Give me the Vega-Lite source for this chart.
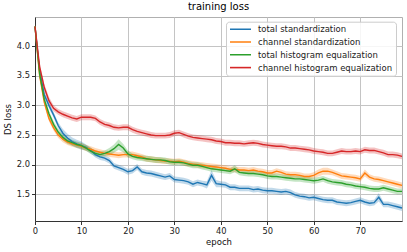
{
"$schema":"https://vega.github.io/schema/vega-lite/v6.json",
"width":367,"height":204,
"autosize":{"type":"none"},
"padding":{"left":35,"top":17,"right":5,"bottom":31},
"title":{"text":"training loss","font":"DejaVu Sans","fontSize":10,"fontWeight":"normal","color":"#000","offset":5},
"config":{
 "view":{"stroke":"#b0b0b0","strokeWidth":1},
 "axis":{"labelFont":"DejaVu Sans","titleFont":"DejaVu Sans","labelFontSize":8.3,"titleFontSize":8.5,"titleFontWeight":"normal","labelColor":"#222","titleColor":"#111","domainColor":"#333","tickColor":"#333","tickSize":3.5,"gridColor":"#c4c4c4","gridWidth":1,"labelFlush":false,"labelOverlap":false,"labelPadding":2},
 "legend":{"labelFont":"DejaVu Sans","labelFontSize":8.5,"labelColor":"#222"}
},
"data":{"values":[
{"s":"total standardization","e":0,"v":4.33,"lo":4.28,"hi":4.38},
{"s":"total standardization","e":1,"v":3.58,"lo":3.53,"hi":3.63},
{"s":"total standardization","e":2,"v":3.18,"lo":3.13,"hi":3.23},
{"s":"total standardization","e":3,"v":3.0,"lo":2.95,"hi":3.05},
{"s":"total standardization","e":4,"v":2.84,"lo":2.79,"hi":2.89},
{"s":"total standardization","e":5,"v":2.66,"lo":2.61,"hi":2.71},
{"s":"total standardization","e":6,"v":2.53,"lo":2.46,"hi":2.6},
{"s":"total standardization","e":7,"v":2.45,"lo":2.38,"hi":2.52},
{"s":"total standardization","e":8,"v":2.39,"lo":2.32,"hi":2.46},
{"s":"total standardization","e":9,"v":2.35,"lo":2.28,"hi":2.42},
{"s":"total standardization","e":10,"v":2.32,"lo":2.25,"hi":2.39},
{"s":"total standardization","e":11,"v":2.29,"lo":2.24,"hi":2.34},
{"s":"total standardization","e":12,"v":2.24,"lo":2.19,"hi":2.29},
{"s":"total standardization","e":13,"v":2.17,"lo":2.12,"hi":2.22},
{"s":"total standardization","e":14,"v":2.13,"lo":2.08,"hi":2.18},
{"s":"total standardization","e":15,"v":2.11,"lo":2.06,"hi":2.16},
{"s":"total standardization","e":16,"v":2.07,"lo":2.02,"hi":2.12},
{"s":"total standardization","e":17,"v":1.98,"lo":1.93,"hi":2.03},
{"s":"total standardization","e":18,"v":1.95,"lo":1.9,"hi":2.0},
{"s":"total standardization","e":19,"v":1.92,"lo":1.87,"hi":1.97},
{"s":"total standardization","e":20,"v":1.88,"lo":1.83,"hi":1.93},
{"s":"total standardization","e":21,"v":1.9,"lo":1.85,"hi":1.95},
{"s":"total standardization","e":22,"v":1.96,"lo":1.91,"hi":2.01},
{"s":"total standardization","e":23,"v":1.88,"lo":1.83,"hi":1.93},
{"s":"total standardization","e":24,"v":1.86,"lo":1.81,"hi":1.91},
{"s":"total standardization","e":25,"v":1.85,"lo":1.8,"hi":1.9},
{"s":"total standardization","e":26,"v":1.83,"lo":1.78,"hi":1.88},
{"s":"total standardization","e":27,"v":1.81,"lo":1.76,"hi":1.86},
{"s":"total standardization","e":28,"v":1.79,"lo":1.74,"hi":1.84},
{"s":"total standardization","e":29,"v":1.81,"lo":1.76,"hi":1.86},
{"s":"total standardization","e":30,"v":1.75,"lo":1.7,"hi":1.8},
{"s":"total standardization","e":31,"v":1.74,"lo":1.69,"hi":1.79},
{"s":"total standardization","e":32,"v":1.73,"lo":1.68,"hi":1.78},
{"s":"total standardization","e":33,"v":1.71,"lo":1.66,"hi":1.76},
{"s":"total standardization","e":34,"v":1.67,"lo":1.62,"hi":1.72},
{"s":"total standardization","e":35,"v":1.7,"lo":1.65,"hi":1.75},
{"s":"total standardization","e":36,"v":1.68,"lo":1.63,"hi":1.73},
{"s":"total standardization","e":37,"v":1.66,"lo":1.6,"hi":1.72},
{"s":"total standardization","e":38,"v":1.82,"lo":1.73,"hi":1.91},
{"s":"total standardization","e":39,"v":1.68,"lo":1.62,"hi":1.74},
{"s":"total standardization","e":40,"v":1.67,"lo":1.62,"hi":1.72},
{"s":"total standardization","e":41,"v":1.66,"lo":1.61,"hi":1.71},
{"s":"total standardization","e":42,"v":1.62,"lo":1.57,"hi":1.67},
{"s":"total standardization","e":43,"v":1.62,"lo":1.57,"hi":1.67},
{"s":"total standardization","e":44,"v":1.6,"lo":1.55,"hi":1.65},
{"s":"total standardization","e":45,"v":1.6,"lo":1.55,"hi":1.65},
{"s":"total standardization","e":46,"v":1.6,"lo":1.55,"hi":1.65},
{"s":"total standardization","e":47,"v":1.58,"lo":1.53,"hi":1.63},
{"s":"total standardization","e":48,"v":1.59,"lo":1.54,"hi":1.64},
{"s":"total standardization","e":49,"v":1.57,"lo":1.52,"hi":1.62},
{"s":"total standardization","e":50,"v":1.56,"lo":1.51,"hi":1.61},
{"s":"total standardization","e":51,"v":1.56,"lo":1.51,"hi":1.61},
{"s":"total standardization","e":52,"v":1.55,"lo":1.5,"hi":1.6},
{"s":"total standardization","e":53,"v":1.54,"lo":1.49,"hi":1.59},
{"s":"total standardization","e":54,"v":1.55,"lo":1.5,"hi":1.6},
{"s":"total standardization","e":55,"v":1.53,"lo":1.48,"hi":1.58},
{"s":"total standardization","e":56,"v":1.49,"lo":1.44,"hi":1.54},
{"s":"total standardization","e":57,"v":1.47,"lo":1.42,"hi":1.52},
{"s":"total standardization","e":58,"v":1.46,"lo":1.41,"hi":1.51},
{"s":"total standardization","e":59,"v":1.44,"lo":1.39,"hi":1.49},
{"s":"total standardization","e":60,"v":1.45,"lo":1.4,"hi":1.5},
{"s":"total standardization","e":61,"v":1.43,"lo":1.38,"hi":1.48},
{"s":"total standardization","e":62,"v":1.41,"lo":1.36,"hi":1.46},
{"s":"total standardization","e":63,"v":1.4,"lo":1.35,"hi":1.45},
{"s":"total standardization","e":64,"v":1.4,"lo":1.35,"hi":1.45},
{"s":"total standardization","e":65,"v":1.37,"lo":1.32,"hi":1.42},
{"s":"total standardization","e":66,"v":1.36,"lo":1.31,"hi":1.41},
{"s":"total standardization","e":67,"v":1.35,"lo":1.3,"hi":1.4},
{"s":"total standardization","e":68,"v":1.36,"lo":1.31,"hi":1.41},
{"s":"total standardization","e":69,"v":1.38,"lo":1.33,"hi":1.43},
{"s":"total standardization","e":70,"v":1.4,"lo":1.35,"hi":1.45},
{"s":"total standardization","e":71,"v":1.37,"lo":1.32,"hi":1.42},
{"s":"total standardization","e":72,"v":1.35,"lo":1.3,"hi":1.4},
{"s":"total standardization","e":73,"v":1.36,"lo":1.31,"hi":1.41},
{"s":"total standardization","e":74,"v":1.45,"lo":1.38,"hi":1.52},
{"s":"total standardization","e":75,"v":1.33,"lo":1.28,"hi":1.38},
{"s":"total standardization","e":76,"v":1.33,"lo":1.28,"hi":1.38},
{"s":"total standardization","e":77,"v":1.31,"lo":1.26,"hi":1.36},
{"s":"total standardization","e":78,"v":1.29,"lo":1.24,"hi":1.34},
{"s":"total standardization","e":79,"v":1.27,"lo":1.22,"hi":1.32},
{"s":"channel standardization","e":0,"v":4.33,"lo":4.28,"hi":4.38},
{"s":"channel standardization","e":1,"v":3.5,"lo":3.45,"hi":3.55},
{"s":"channel standardization","e":2,"v":3.05,"lo":3.0,"hi":3.1},
{"s":"channel standardization","e":3,"v":2.78,"lo":2.73,"hi":2.83},
{"s":"channel standardization","e":4,"v":2.62,"lo":2.57,"hi":2.67},
{"s":"channel standardization","e":5,"v":2.5,"lo":2.45,"hi":2.55},
{"s":"channel standardization","e":6,"v":2.43,"lo":2.38,"hi":2.48},
{"s":"channel standardization","e":7,"v":2.38,"lo":2.33,"hi":2.43},
{"s":"channel standardization","e":8,"v":2.35,"lo":2.3,"hi":2.4},
{"s":"channel standardization","e":9,"v":2.33,"lo":2.28,"hi":2.38},
{"s":"channel standardization","e":10,"v":2.31,"lo":2.26,"hi":2.36},
{"s":"channel standardization","e":11,"v":2.28,"lo":2.23,"hi":2.33},
{"s":"channel standardization","e":12,"v":2.26,"lo":2.21,"hi":2.31},
{"s":"channel standardization","e":13,"v":2.23,"lo":2.18,"hi":2.28},
{"s":"channel standardization","e":14,"v":2.21,"lo":2.16,"hi":2.26},
{"s":"channel standardization","e":15,"v":2.19,"lo":2.14,"hi":2.24},
{"s":"channel standardization","e":16,"v":2.18,"lo":2.13,"hi":2.23},
{"s":"channel standardization","e":17,"v":2.17,"lo":2.12,"hi":2.22},
{"s":"channel standardization","e":18,"v":2.16,"lo":2.11,"hi":2.21},
{"s":"channel standardization","e":19,"v":2.17,"lo":2.12,"hi":2.22},
{"s":"channel standardization","e":20,"v":2.17,"lo":2.12,"hi":2.22},
{"s":"channel standardization","e":21,"v":2.17,"lo":2.12,"hi":2.22},
{"s":"channel standardization","e":22,"v":2.15,"lo":2.1,"hi":2.2},
{"s":"channel standardization","e":23,"v":2.13,"lo":2.08,"hi":2.18},
{"s":"channel standardization","e":24,"v":2.1,"lo":2.05,"hi":2.15},
{"s":"channel standardization","e":25,"v":2.09,"lo":2.04,"hi":2.14},
{"s":"channel standardization","e":26,"v":2.08,"lo":2.03,"hi":2.13},
{"s":"channel standardization","e":27,"v":2.07,"lo":2.02,"hi":2.12},
{"s":"channel standardization","e":28,"v":2.06,"lo":2.01,"hi":2.11},
{"s":"channel standardization","e":29,"v":2.06,"lo":2.01,"hi":2.11},
{"s":"channel standardization","e":30,"v":2.05,"lo":2.0,"hi":2.1},
{"s":"channel standardization","e":31,"v":2.06,"lo":2.01,"hi":2.11},
{"s":"channel standardization","e":32,"v":2.04,"lo":1.99,"hi":2.09},
{"s":"channel standardization","e":33,"v":2.02,"lo":1.97,"hi":2.07},
{"s":"channel standardization","e":34,"v":2.01,"lo":1.96,"hi":2.06},
{"s":"channel standardization","e":35,"v":2.0,"lo":1.95,"hi":2.05},
{"s":"channel standardization","e":36,"v":1.99,"lo":1.94,"hi":2.04},
{"s":"channel standardization","e":37,"v":1.98,"lo":1.93,"hi":2.03},
{"s":"channel standardization","e":38,"v":1.97,"lo":1.92,"hi":2.02},
{"s":"channel standardization","e":39,"v":1.96,"lo":1.91,"hi":2.01},
{"s":"channel standardization","e":40,"v":1.95,"lo":1.9,"hi":2.0},
{"s":"channel standardization","e":41,"v":1.94,"lo":1.89,"hi":1.99},
{"s":"channel standardization","e":42,"v":1.92,"lo":1.87,"hi":1.97},
{"s":"channel standardization","e":43,"v":1.92,"lo":1.87,"hi":1.97},
{"s":"channel standardization","e":44,"v":1.91,"lo":1.86,"hi":1.96},
{"s":"channel standardization","e":45,"v":1.91,"lo":1.86,"hi":1.96},
{"s":"channel standardization","e":46,"v":1.9,"lo":1.85,"hi":1.95},
{"s":"channel standardization","e":47,"v":1.91,"lo":1.86,"hi":1.96},
{"s":"channel standardization","e":48,"v":1.89,"lo":1.84,"hi":1.94},
{"s":"channel standardization","e":49,"v":1.88,"lo":1.83,"hi":1.93},
{"s":"channel standardization","e":50,"v":1.86,"lo":1.81,"hi":1.91},
{"s":"channel standardization","e":51,"v":1.86,"lo":1.81,"hi":1.91},
{"s":"channel standardization","e":52,"v":1.89,"lo":1.84,"hi":1.94},
{"s":"channel standardization","e":53,"v":1.87,"lo":1.82,"hi":1.92},
{"s":"channel standardization","e":54,"v":1.84,"lo":1.79,"hi":1.89},
{"s":"channel standardization","e":55,"v":1.83,"lo":1.78,"hi":1.88},
{"s":"channel standardization","e":56,"v":1.83,"lo":1.78,"hi":1.88},
{"s":"channel standardization","e":57,"v":1.82,"lo":1.77,"hi":1.87},
{"s":"channel standardization","e":58,"v":1.8,"lo":1.75,"hi":1.85},
{"s":"channel standardization","e":59,"v":1.8,"lo":1.75,"hi":1.85},
{"s":"channel standardization","e":60,"v":1.82,"lo":1.77,"hi":1.87},
{"s":"channel standardization","e":61,"v":1.86,"lo":1.8,"hi":1.92},
{"s":"channel standardization","e":62,"v":1.89,"lo":1.83,"hi":1.95},
{"s":"channel standardization","e":63,"v":1.89,"lo":1.83,"hi":1.95},
{"s":"channel standardization","e":64,"v":1.87,"lo":1.82,"hi":1.92},
{"s":"channel standardization","e":65,"v":1.84,"lo":1.79,"hi":1.89},
{"s":"channel standardization","e":66,"v":1.81,"lo":1.76,"hi":1.86},
{"s":"channel standardization","e":67,"v":1.8,"lo":1.75,"hi":1.85},
{"s":"channel standardization","e":68,"v":1.79,"lo":1.74,"hi":1.84},
{"s":"channel standardization","e":69,"v":1.78,"lo":1.73,"hi":1.83},
{"s":"channel standardization","e":70,"v":1.76,"lo":1.71,"hi":1.81},
{"s":"channel standardization","e":71,"v":1.86,"lo":1.8,"hi":1.92},
{"s":"channel standardization","e":72,"v":1.79,"lo":1.74,"hi":1.84},
{"s":"channel standardization","e":73,"v":1.76,"lo":1.71,"hi":1.81},
{"s":"channel standardization","e":74,"v":1.75,"lo":1.7,"hi":1.8},
{"s":"channel standardization","e":75,"v":1.73,"lo":1.68,"hi":1.78},
{"s":"channel standardization","e":76,"v":1.71,"lo":1.66,"hi":1.76},
{"s":"channel standardization","e":77,"v":1.69,"lo":1.64,"hi":1.74},
{"s":"channel standardization","e":78,"v":1.67,"lo":1.62,"hi":1.72},
{"s":"channel standardization","e":79,"v":1.65,"lo":1.6,"hi":1.7},
{"s":"total histogram equalization","e":0,"v":4.33,"lo":4.28,"hi":4.38},
{"s":"total histogram equalization","e":1,"v":3.53,"lo":3.48,"hi":3.58},
{"s":"total histogram equalization","e":2,"v":3.1,"lo":3.05,"hi":3.15},
{"s":"total histogram equalization","e":3,"v":2.86,"lo":2.81,"hi":2.91},
{"s":"total histogram equalization","e":4,"v":2.68,"lo":2.63,"hi":2.73},
{"s":"total histogram equalization","e":5,"v":2.55,"lo":2.5,"hi":2.6},
{"s":"total histogram equalization","e":6,"v":2.46,"lo":2.41,"hi":2.51},
{"s":"total histogram equalization","e":7,"v":2.4,"lo":2.35,"hi":2.45},
{"s":"total histogram equalization","e":8,"v":2.37,"lo":2.32,"hi":2.42},
{"s":"total histogram equalization","e":9,"v":2.34,"lo":2.29,"hi":2.39},
{"s":"total histogram equalization","e":10,"v":2.32,"lo":2.27,"hi":2.37},
{"s":"total histogram equalization","e":11,"v":2.28,"lo":2.23,"hi":2.33},
{"s":"total histogram equalization","e":12,"v":2.23,"lo":2.18,"hi":2.28},
{"s":"total histogram equalization","e":13,"v":2.19,"lo":2.14,"hi":2.24},
{"s":"total histogram equalization","e":14,"v":2.17,"lo":2.12,"hi":2.22},
{"s":"total histogram equalization","e":15,"v":2.19,"lo":2.14,"hi":2.24},
{"s":"total histogram equalization","e":16,"v":2.22,"lo":2.16,"hi":2.28},
{"s":"total histogram equalization","e":17,"v":2.27,"lo":2.2,"hi":2.34},
{"s":"total histogram equalization","e":18,"v":2.34,"lo":2.25,"hi":2.43},
{"s":"total histogram equalization","e":19,"v":2.28,"lo":2.21,"hi":2.35},
{"s":"total histogram equalization","e":20,"v":2.18,"lo":2.12,"hi":2.24},
{"s":"total histogram equalization","e":21,"v":2.14,"lo":2.09,"hi":2.19},
{"s":"total histogram equalization","e":22,"v":2.12,"lo":2.07,"hi":2.17},
{"s":"total histogram equalization","e":23,"v":2.11,"lo":2.06,"hi":2.16},
{"s":"total histogram equalization","e":24,"v":2.1,"lo":2.05,"hi":2.15},
{"s":"total histogram equalization","e":25,"v":2.09,"lo":2.04,"hi":2.14},
{"s":"total histogram equalization","e":26,"v":2.08,"lo":2.03,"hi":2.13},
{"s":"total histogram equalization","e":27,"v":2.08,"lo":2.03,"hi":2.13},
{"s":"total histogram equalization","e":28,"v":2.07,"lo":2.02,"hi":2.12},
{"s":"total histogram equalization","e":29,"v":2.05,"lo":2.0,"hi":2.1},
{"s":"total histogram equalization","e":30,"v":2.04,"lo":1.99,"hi":2.09},
{"s":"total histogram equalization","e":31,"v":2.04,"lo":1.99,"hi":2.09},
{"s":"total histogram equalization","e":32,"v":2.03,"lo":1.98,"hi":2.08},
{"s":"total histogram equalization","e":33,"v":2.01,"lo":1.96,"hi":2.06},
{"s":"total histogram equalization","e":34,"v":1.99,"lo":1.94,"hi":2.04},
{"s":"total histogram equalization","e":35,"v":1.99,"lo":1.94,"hi":2.04},
{"s":"total histogram equalization","e":36,"v":1.97,"lo":1.92,"hi":2.02},
{"s":"total histogram equalization","e":37,"v":1.95,"lo":1.9,"hi":2.0},
{"s":"total histogram equalization","e":38,"v":1.93,"lo":1.88,"hi":1.98},
{"s":"total histogram equalization","e":39,"v":1.92,"lo":1.87,"hi":1.97},
{"s":"total histogram equalization","e":40,"v":1.91,"lo":1.86,"hi":1.96},
{"s":"total histogram equalization","e":41,"v":1.9,"lo":1.85,"hi":1.95},
{"s":"total histogram equalization","e":42,"v":1.89,"lo":1.84,"hi":1.94},
{"s":"total histogram equalization","e":43,"v":1.93,"lo":1.87,"hi":1.99},
{"s":"total histogram equalization","e":44,"v":1.87,"lo":1.82,"hi":1.92},
{"s":"total histogram equalization","e":45,"v":1.86,"lo":1.81,"hi":1.91},
{"s":"total histogram equalization","e":46,"v":1.85,"lo":1.8,"hi":1.9},
{"s":"total histogram equalization","e":47,"v":1.85,"lo":1.8,"hi":1.9},
{"s":"total histogram equalization","e":48,"v":1.84,"lo":1.79,"hi":1.89},
{"s":"total histogram equalization","e":49,"v":1.83,"lo":1.78,"hi":1.88},
{"s":"total histogram equalization","e":50,"v":1.81,"lo":1.76,"hi":1.86},
{"s":"total histogram equalization","e":51,"v":1.8,"lo":1.75,"hi":1.85},
{"s":"total histogram equalization","e":52,"v":1.8,"lo":1.75,"hi":1.85},
{"s":"total histogram equalization","e":53,"v":1.79,"lo":1.74,"hi":1.84},
{"s":"total histogram equalization","e":54,"v":1.78,"lo":1.73,"hi":1.83},
{"s":"total histogram equalization","e":55,"v":1.77,"lo":1.72,"hi":1.82},
{"s":"total histogram equalization","e":56,"v":1.76,"lo":1.71,"hi":1.81},
{"s":"total histogram equalization","e":57,"v":1.76,"lo":1.71,"hi":1.81},
{"s":"total histogram equalization","e":58,"v":1.75,"lo":1.7,"hi":1.8},
{"s":"total histogram equalization","e":59,"v":1.74,"lo":1.69,"hi":1.79},
{"s":"total histogram equalization","e":60,"v":1.73,"lo":1.68,"hi":1.78},
{"s":"total histogram equalization","e":61,"v":1.74,"lo":1.69,"hi":1.79},
{"s":"total histogram equalization","e":62,"v":1.76,"lo":1.71,"hi":1.81},
{"s":"total histogram equalization","e":63,"v":1.73,"lo":1.68,"hi":1.78},
{"s":"total histogram equalization","e":64,"v":1.71,"lo":1.66,"hi":1.76},
{"s":"total histogram equalization","e":65,"v":1.7,"lo":1.65,"hi":1.75},
{"s":"total histogram equalization","e":66,"v":1.69,"lo":1.64,"hi":1.74},
{"s":"total histogram equalization","e":67,"v":1.67,"lo":1.62,"hi":1.72},
{"s":"total histogram equalization","e":68,"v":1.66,"lo":1.61,"hi":1.71},
{"s":"total histogram equalization","e":69,"v":1.64,"lo":1.59,"hi":1.69},
{"s":"total histogram equalization","e":70,"v":1.63,"lo":1.58,"hi":1.68},
{"s":"total histogram equalization","e":71,"v":1.62,"lo":1.57,"hi":1.67},
{"s":"total histogram equalization","e":72,"v":1.6,"lo":1.55,"hi":1.65},
{"s":"total histogram equalization","e":73,"v":1.59,"lo":1.54,"hi":1.64},
{"s":"total histogram equalization","e":74,"v":1.59,"lo":1.54,"hi":1.64},
{"s":"total histogram equalization","e":75,"v":1.61,"lo":1.56,"hi":1.66},
{"s":"total histogram equalization","e":76,"v":1.59,"lo":1.54,"hi":1.64},
{"s":"total histogram equalization","e":77,"v":1.57,"lo":1.52,"hi":1.62},
{"s":"total histogram equalization","e":78,"v":1.55,"lo":1.5,"hi":1.6},
{"s":"total histogram equalization","e":79,"v":1.55,"lo":1.5,"hi":1.6},
{"s":"channel histogram equalization","e":0,"v":4.33,"lo":4.27,"hi":4.39},
{"s":"channel histogram equalization","e":1,"v":3.65,"lo":3.59,"hi":3.71},
{"s":"channel histogram equalization","e":2,"v":3.3,"lo":3.24,"hi":3.36},
{"s":"channel histogram equalization","e":3,"v":3.08,"lo":3.02,"hi":3.14},
{"s":"channel histogram equalization","e":4,"v":2.95,"lo":2.9,"hi":3.0},
{"s":"channel histogram equalization","e":5,"v":2.89,"lo":2.84,"hi":2.94},
{"s":"channel histogram equalization","e":6,"v":2.85,"lo":2.8,"hi":2.9},
{"s":"channel histogram equalization","e":7,"v":2.82,"lo":2.77,"hi":2.87},
{"s":"channel histogram equalization","e":8,"v":2.79,"lo":2.74,"hi":2.84},
{"s":"channel histogram equalization","e":9,"v":2.77,"lo":2.72,"hi":2.82},
{"s":"channel histogram equalization","e":10,"v":2.8,"lo":2.75,"hi":2.85},
{"s":"channel histogram equalization","e":11,"v":2.8,"lo":2.75,"hi":2.85},
{"s":"channel histogram equalization","e":12,"v":2.8,"lo":2.75,"hi":2.85},
{"s":"channel histogram equalization","e":13,"v":2.78,"lo":2.73,"hi":2.83},
{"s":"channel histogram equalization","e":14,"v":2.72,"lo":2.67,"hi":2.77},
{"s":"channel histogram equalization","e":15,"v":2.68,"lo":2.63,"hi":2.73},
{"s":"channel histogram equalization","e":16,"v":2.66,"lo":2.61,"hi":2.71},
{"s":"channel histogram equalization","e":17,"v":2.63,"lo":2.58,"hi":2.68},
{"s":"channel histogram equalization","e":18,"v":2.62,"lo":2.57,"hi":2.67},
{"s":"channel histogram equalization","e":19,"v":2.63,"lo":2.58,"hi":2.68},
{"s":"channel histogram equalization","e":20,"v":2.63,"lo":2.58,"hi":2.68},
{"s":"channel histogram equalization","e":21,"v":2.59,"lo":2.54,"hi":2.64},
{"s":"channel histogram equalization","e":22,"v":2.56,"lo":2.51,"hi":2.61},
{"s":"channel histogram equalization","e":23,"v":2.54,"lo":2.49,"hi":2.59},
{"s":"channel histogram equalization","e":24,"v":2.52,"lo":2.47,"hi":2.57},
{"s":"channel histogram equalization","e":25,"v":2.5,"lo":2.45,"hi":2.55},
{"s":"channel histogram equalization","e":26,"v":2.49,"lo":2.44,"hi":2.54},
{"s":"channel histogram equalization","e":27,"v":2.49,"lo":2.44,"hi":2.54},
{"s":"channel histogram equalization","e":28,"v":2.49,"lo":2.44,"hi":2.54},
{"s":"channel histogram equalization","e":29,"v":2.5,"lo":2.45,"hi":2.55},
{"s":"channel histogram equalization","e":30,"v":2.53,"lo":2.48,"hi":2.58},
{"s":"channel histogram equalization","e":31,"v":2.54,"lo":2.49,"hi":2.59},
{"s":"channel histogram equalization","e":32,"v":2.51,"lo":2.46,"hi":2.56},
{"s":"channel histogram equalization","e":33,"v":2.48,"lo":2.43,"hi":2.53},
{"s":"channel histogram equalization","e":34,"v":2.46,"lo":2.41,"hi":2.51},
{"s":"channel histogram equalization","e":35,"v":2.45,"lo":2.4,"hi":2.5},
{"s":"channel histogram equalization","e":36,"v":2.44,"lo":2.39,"hi":2.49},
{"s":"channel histogram equalization","e":37,"v":2.43,"lo":2.38,"hi":2.48},
{"s":"channel histogram equalization","e":38,"v":2.42,"lo":2.37,"hi":2.47},
{"s":"channel histogram equalization","e":39,"v":2.4,"lo":2.35,"hi":2.45},
{"s":"channel histogram equalization","e":40,"v":2.39,"lo":2.34,"hi":2.44},
{"s":"channel histogram equalization","e":41,"v":2.37,"lo":2.32,"hi":2.42},
{"s":"channel histogram equalization","e":42,"v":2.37,"lo":2.32,"hi":2.42},
{"s":"channel histogram equalization","e":43,"v":2.36,"lo":2.31,"hi":2.41},
{"s":"channel histogram equalization","e":44,"v":2.36,"lo":2.31,"hi":2.41},
{"s":"channel histogram equalization","e":45,"v":2.35,"lo":2.3,"hi":2.4},
{"s":"channel histogram equalization","e":46,"v":2.36,"lo":2.31,"hi":2.41},
{"s":"channel histogram equalization","e":47,"v":2.37,"lo":2.32,"hi":2.42},
{"s":"channel histogram equalization","e":48,"v":2.36,"lo":2.31,"hi":2.41},
{"s":"channel histogram equalization","e":49,"v":2.34,"lo":2.29,"hi":2.39},
{"s":"channel histogram equalization","e":50,"v":2.33,"lo":2.28,"hi":2.38},
{"s":"channel histogram equalization","e":51,"v":2.32,"lo":2.27,"hi":2.37},
{"s":"channel histogram equalization","e":52,"v":2.31,"lo":2.26,"hi":2.36},
{"s":"channel histogram equalization","e":53,"v":2.31,"lo":2.26,"hi":2.36},
{"s":"channel histogram equalization","e":54,"v":2.3,"lo":2.25,"hi":2.35},
{"s":"channel histogram equalization","e":55,"v":2.28,"lo":2.23,"hi":2.33},
{"s":"channel histogram equalization","e":56,"v":2.28,"lo":2.23,"hi":2.33},
{"s":"channel histogram equalization","e":57,"v":2.27,"lo":2.22,"hi":2.32},
{"s":"channel histogram equalization","e":58,"v":2.26,"lo":2.21,"hi":2.31},
{"s":"channel histogram equalization","e":59,"v":2.25,"lo":2.2,"hi":2.3},
{"s":"channel histogram equalization","e":60,"v":2.23,"lo":2.18,"hi":2.28},
{"s":"channel histogram equalization","e":61,"v":2.22,"lo":2.17,"hi":2.27},
{"s":"channel histogram equalization","e":62,"v":2.21,"lo":2.16,"hi":2.26},
{"s":"channel histogram equalization","e":63,"v":2.19,"lo":2.14,"hi":2.24},
{"s":"channel histogram equalization","e":64,"v":2.19,"lo":2.14,"hi":2.24},
{"s":"channel histogram equalization","e":65,"v":2.21,"lo":2.16,"hi":2.26},
{"s":"channel histogram equalization","e":66,"v":2.23,"lo":2.18,"hi":2.28},
{"s":"channel histogram equalization","e":67,"v":2.22,"lo":2.17,"hi":2.27},
{"s":"channel histogram equalization","e":68,"v":2.22,"lo":2.17,"hi":2.27},
{"s":"channel histogram equalization","e":69,"v":2.23,"lo":2.18,"hi":2.28},
{"s":"channel histogram equalization","e":70,"v":2.22,"lo":2.17,"hi":2.27},
{"s":"channel histogram equalization","e":71,"v":2.25,"lo":2.2,"hi":2.3},
{"s":"channel histogram equalization","e":72,"v":2.24,"lo":2.19,"hi":2.29},
{"s":"channel histogram equalization","e":73,"v":2.24,"lo":2.19,"hi":2.29},
{"s":"channel histogram equalization","e":74,"v":2.22,"lo":2.17,"hi":2.27},
{"s":"channel histogram equalization","e":75,"v":2.2,"lo":2.15,"hi":2.25},
{"s":"channel histogram equalization","e":76,"v":2.17,"lo":2.12,"hi":2.22},
{"s":"channel histogram equalization","e":77,"v":2.17,"lo":2.12,"hi":2.22},
{"s":"channel histogram equalization","e":78,"v":2.16,"lo":2.11,"hi":2.21},
{"s":"channel histogram equalization","e":79,"v":2.14,"lo":2.09,"hi":2.19}
]},
"layer":[
 {"mark":{"type":"area","opacity":0.28},
  "encoding":{
   "x":{"field":"e","type":"quantitative","scale":{"domain":[0,79],"nice":false,"zero":false},
        "axis":{"title":"epoch","values":[0,10,20,30,40,50,60,70],"grid":true,"titlePadding":3}},
   "y":{"field":"lo","type":"quantitative","scale":{"domain":[1.05,4.49],"nice":false,"zero":false},
        "axis":{"title":"DS loss","values":[1.5,2.0,2.5,3.0,3.5,4.0],"format":".1f","grid":true,"titlePadding":4}},
   "y2":{"field":"hi"},
   "color":{"field":"s","type":"nominal","scale":{"domain":["total standardization","channel standardization","total histogram equalization","channel histogram equalization"],"range":["#1f77b4","#ff7f0e","#2ca02c","#d62728"]},"legend":null}
  }},
 {"mark":{"type":"line","strokeWidth":1.4},
  "encoding":{
   "x":{"field":"e","type":"quantitative"},
   "y":{"field":"v","type":"quantitative"},
   "color":{"field":"s","type":"nominal","sort":null,
     "legend":{"title":null,"orient":"none","legendX":191,"legendY":4.7,"symbolType":"stroke","symbolSize":441,"symbolStrokeWidth":1.6,"padding":3,"clipHeight":9,"rowPadding":3.8,"labelOffset":6,"strokeColor":"#cccccc","fillColor":"rgba(255,255,255,0.85)","cornerRadius":3}}
  }}
],
"resolve":{"legend":{"color":"independent"}}
}
